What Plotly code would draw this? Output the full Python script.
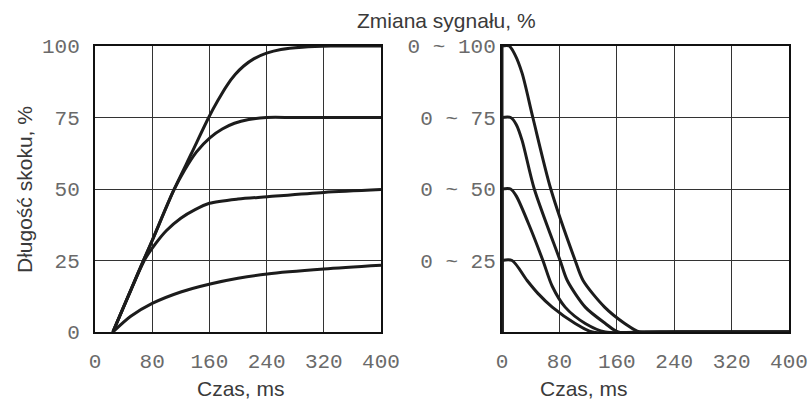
import plotly.graph_objects as go

# Step response: stroke length (%) over time (ms), one curve per step size
rise_t_100 = [25, 60, 80, 110, 135, 159, 172, 184, 196, 208, 222, 240, 260, 290, 330, 400]
rise_v_100 = [0, 20.5, 32, 49.5, 62.5, 75, 81, 86, 90, 93, 95.5, 97.5, 98.8, 99.6, 100, 100]
rise_t_75 = [25, 60, 80, 110, 125, 142, 161, 178, 195, 215, 240, 280, 400]
rise_v_75 = [0, 20.5, 32, 49.5, 56.5, 63, 68, 71, 73, 74.3, 75, 75, 75]
rise_t_50 = [25, 50, 70, 85, 100, 120, 140, 160, 200, 241, 320, 400]
rise_v_50 = [0, 14.5, 25.5, 31, 35.5, 39.8, 42.8, 45, 46.5, 47.3, 48.8, 49.8]
rise_t_25 = [25, 50, 80, 120, 161, 200, 241, 320, 400]
rise_v_25 = [0, 5.5, 10, 14, 16.8, 18.8, 20.3, 22, 23.3]

# Fall response after the signal drops back to 0 (first two points: the jump at t=0)
fall_t_100 = [0, 0, 10, 18, 28, 43, 68, 102, 113, 143, 171, 192, 250, 400]
fall_v_100 = [0, 100, 100, 97, 90.5, 75, 50, 25, 18, 8.7, 3, 0, 0, 0]
fall_t_75 = [0, 0, 12, 20, 28, 45, 81, 91, 116, 144, 162, 220, 400]
fall_v_75 = [0, 75, 75, 72.5, 67, 50, 25, 18, 8.7, 3, 0, 0, 0]
fall_t_50 = [0, 0, 12, 20, 40, 57, 70, 88, 116, 144, 200, 400]
fall_v_50 = [0, 50, 50, 47.5, 36, 25, 16, 8.7, 3, 0, 0, 0]
fall_t_25 = [0, 0, 14, 35, 50, 70, 102, 126, 200, 400]
fall_v_25 = [0, 25, 25, 18, 13.5, 8.7, 3, 0, 0, 0]

x_ticks = [0, 80, 160, 240, 320, 400]
y_ticks = [0, 25, 50, 75, 100]
left_y_labels = ["0", "25", "50", "75", "100"]
right_y_labels = ["", "0 ~ 25", "0 ~ 50", "0 ~ 75", "0 ~ 100"]

INK = "#1c1c1c"
CURVE = dict(color=INK, width=3, shape="spline", smoothing=0.8)
JUMP = dict(color=INK, width=3)
MONO = dict(family="Liberation Mono, DejaVu Sans Mono, monospace", size=21, color="#6a6a6a")
SANS = dict(family="Liberation Sans Narrow, Liberation Sans, Arial, sans-serif", size=21, color="#3a3a3a")

fig = go.Figure()
for t, v in [(rise_t_100, rise_v_100), (rise_t_75, rise_v_75),
             (rise_t_50, rise_v_50), (rise_t_25, rise_v_25)]:
    fig.add_trace(go.Scatter(x=t, y=v, mode="lines", line=CURVE, xaxis="x", yaxis="y",
                             showlegend=False, hoverinfo="skip"))
for t, v in [(fall_t_100, fall_v_100), (fall_t_75, fall_v_75),
             (fall_t_50, fall_v_50), (fall_t_25, fall_v_25)]:
    # vertical step of the signal at t=0
    fig.add_trace(go.Scatter(x=t[:2], y=v[:2], mode="lines", line=JUMP, xaxis="x2", yaxis="y2",
                             showlegend=False, hoverinfo="skip", cliponaxis=False))
    # decay of the stroke
    fig.add_trace(go.Scatter(x=t[1:], y=v[1:], mode="lines", line=CURVE, xaxis="x2", yaxis="y2",
                             showlegend=False, hoverinfo="skip"))

W, H = 810, 399
ydom = [1 - 332 / H, 1 - 46 / H]
common_x = dict(range=[0, 400], tickvals=x_ticks, ticktext=[str(v) for v in x_ticks],
                showgrid=True, gridcolor="#333333", gridwidth=1, zeroline=False,
                showline=True, linecolor="#111111", linewidth=2, mirror=True,
                ticks="outside", ticklen=9, tickcolor="rgba(0,0,0,0)",
                tickfont=MONO, fixedrange=True, automargin=False)
common_y = dict(range=[0, 100], tickvals=y_ticks, domain=ydom,
                showgrid=True, gridcolor="#333333", gridwidth=1, zeroline=False,
                showline=True, linecolor="#111111", linewidth=2, mirror=True,
                tickfont=MONO, fixedrange=True, automargin=False)


def label(text, px, py, angle=0):
    """Centered text placed at pixel (px, py) measured from the top-left corner."""
    return dict(text=text, x=px / W, y=1 - py / H, xref="paper", yref="paper",
                xanchor="center", yanchor="middle", showarrow=False,
                font=SANS, textangle=angle)


fig.update_layout(
    width=W, height=H,
    margin=dict(l=0, r=0, t=0, b=0, pad=0, autoexpand=False),
    paper_bgcolor="white", plot_bgcolor="white",
    xaxis=dict(common_x, domain=[95 / W, 381 / W], anchor="y"),
    yaxis=dict(common_y, anchor="x", ticktext=left_y_labels,
               ticks="outside", ticklen=9, tickcolor="rgba(0,0,0,0)"),
    xaxis2=dict(common_x, domain=[502 / W, 789 / W], anchor="y2"),
    yaxis2=dict(common_y, anchor="x2", ticktext=right_y_labels, ticks=""),
    annotations=[
        label("Zmiana sygnału, %", 446, 21),
        label("Czas, ms", 241, 388),
        label("Czas, ms", 584, 388),
        label("Długość skoku, %", 24, 190, angle=-90),
    ],
)

fig.write_html("out.html")
